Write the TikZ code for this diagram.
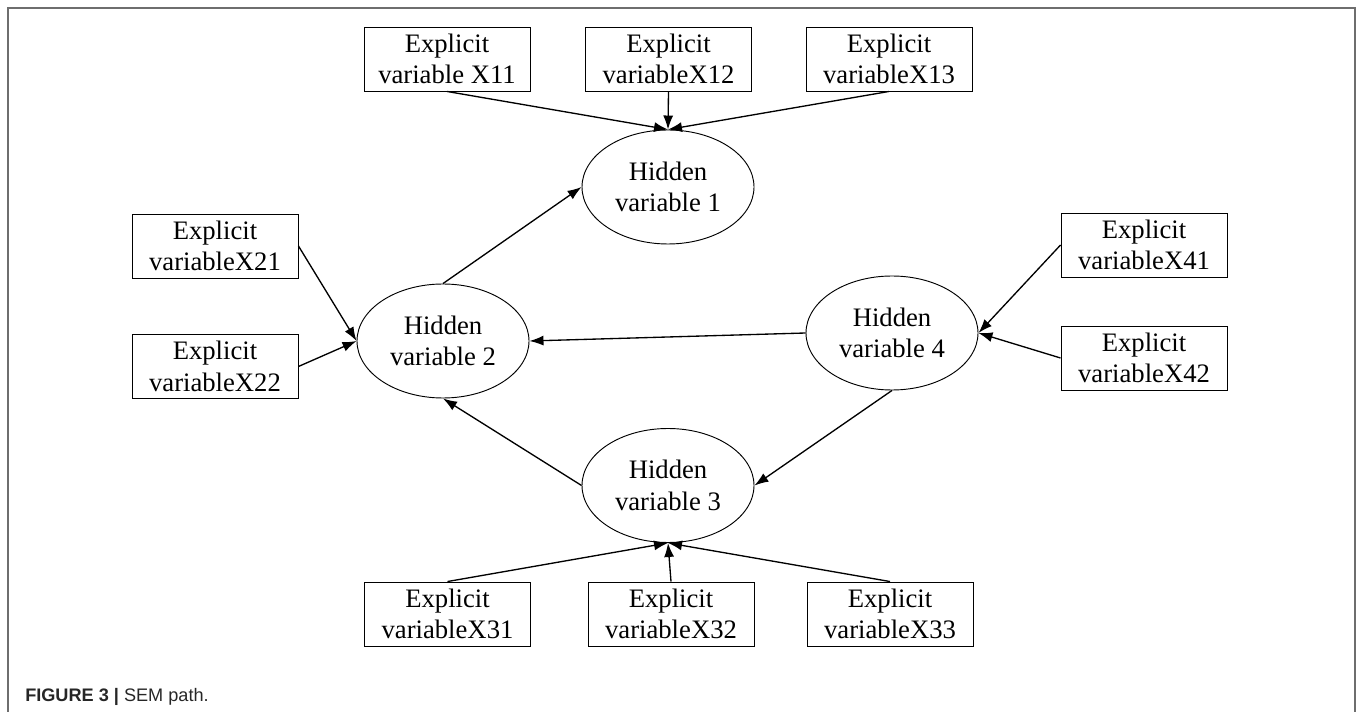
\documentclass[tikz,border=0pt]{standalone}
\usepackage{fontspec}
\setmainfont{Liberation Serif}
\newfontfamily\capfont{Liberation Sans}
\usetikzlibrary{shapes.geometric,arrows.meta}
\definecolor{framegray}{RGB}{110,110,110}
\begin{document}
\begin{tikzpicture}[x=0.75pt,y=-0.75pt,
  obs/.style={draw, line width=0.7pt, rectangle, minimum width=124.5pt, minimum height=48pt, inner sep=0pt, align=center, font=\fontsize{20}{23.5}\selectfont},
  lat/.style={draw, line width=0.7pt, ellipse, minimum width=129pt, minimum height=85.5pt, inner sep=0pt, align=center, font=\fontsize{20}{23.5}\selectfont},
  arr/.style={line width=1pt, -{Latex[length=10.5pt,width=7.5pt]}}]
\useasboundingbox (0,0) rectangle (1357,712);
\draw[framegray, line width=1.1pt] (8,716) -- (8,8) -- (1355,8) -- (1355,716);
% latent
\node[lat] (h1) at (668,187) {Hidden\\variable 1};
\node[lat] (h2) at (443,341) {Hidden\\variable 2};
\node[lat] (h3) at (668,485.5) {Hidden\\variable 3};
\node[lat] (h4) at (892,333) {Hidden\\variable 4};
% observed
\node[obs] (x11) at (447,59) {Explicit\\variable X11};
\node[obs] (x12) at (668.5,59) {Explicit\\variableX12};
\node[obs] (x13) at (889,59) {Explicit\\variableX13};
\node[obs] (x21) at (215,246) {Explicit\\variableX21};
\node[obs] (x22) at (215,366.5) {Explicit\\variableX22};
\node[obs] (x41) at (1144,245) {Explicit\\variableX41};
\node[obs] (x42) at (1144,358) {Explicit\\variableX42};
\node[obs] (x31) at (447.5,614) {Explicit\\variableX31};
\node[obs] (x32) at (671,614) {Explicit\\variableX32};
\node[obs] (x33) at (890,614) {Explicit\\variableX33};
% arrows
\draw[arr] (x11.south) -- (h1.north);
\draw[arr] (x12.south) -- (h1.north);
\draw[arr] (x13.south) -- (h1.north);
\draw[arr] (x21.east) -- (h2.west);
\draw[arr] (x22.east) -- (h2.west);
\draw[arr] (x41.west) -- (h4.east);
\draw[arr] (x42.west) -- (h4.east);
\draw[arr] (x31.north) -- (h3.south);
\draw[arr] (x32.north) -- (h3.south);
\draw[arr] (x33.north) -- (h3.south);
\draw[arr] (h2.north) -- (h1.west);
\draw[arr] (h4.west) -- (h2.east);
\draw[arr] (h4.south) -- (h3.east);
\draw[arr] (h3.west) -- (h2.south);
% caption
\node[anchor=base west, inner sep=0pt, font=\capfont\fontsize{13.6}{15}\selectfont, text=black!85] (cap) at (25,701) {\textbf{FIGURE 3 |} SEM path.};
\end{tikzpicture}
\end{document}
